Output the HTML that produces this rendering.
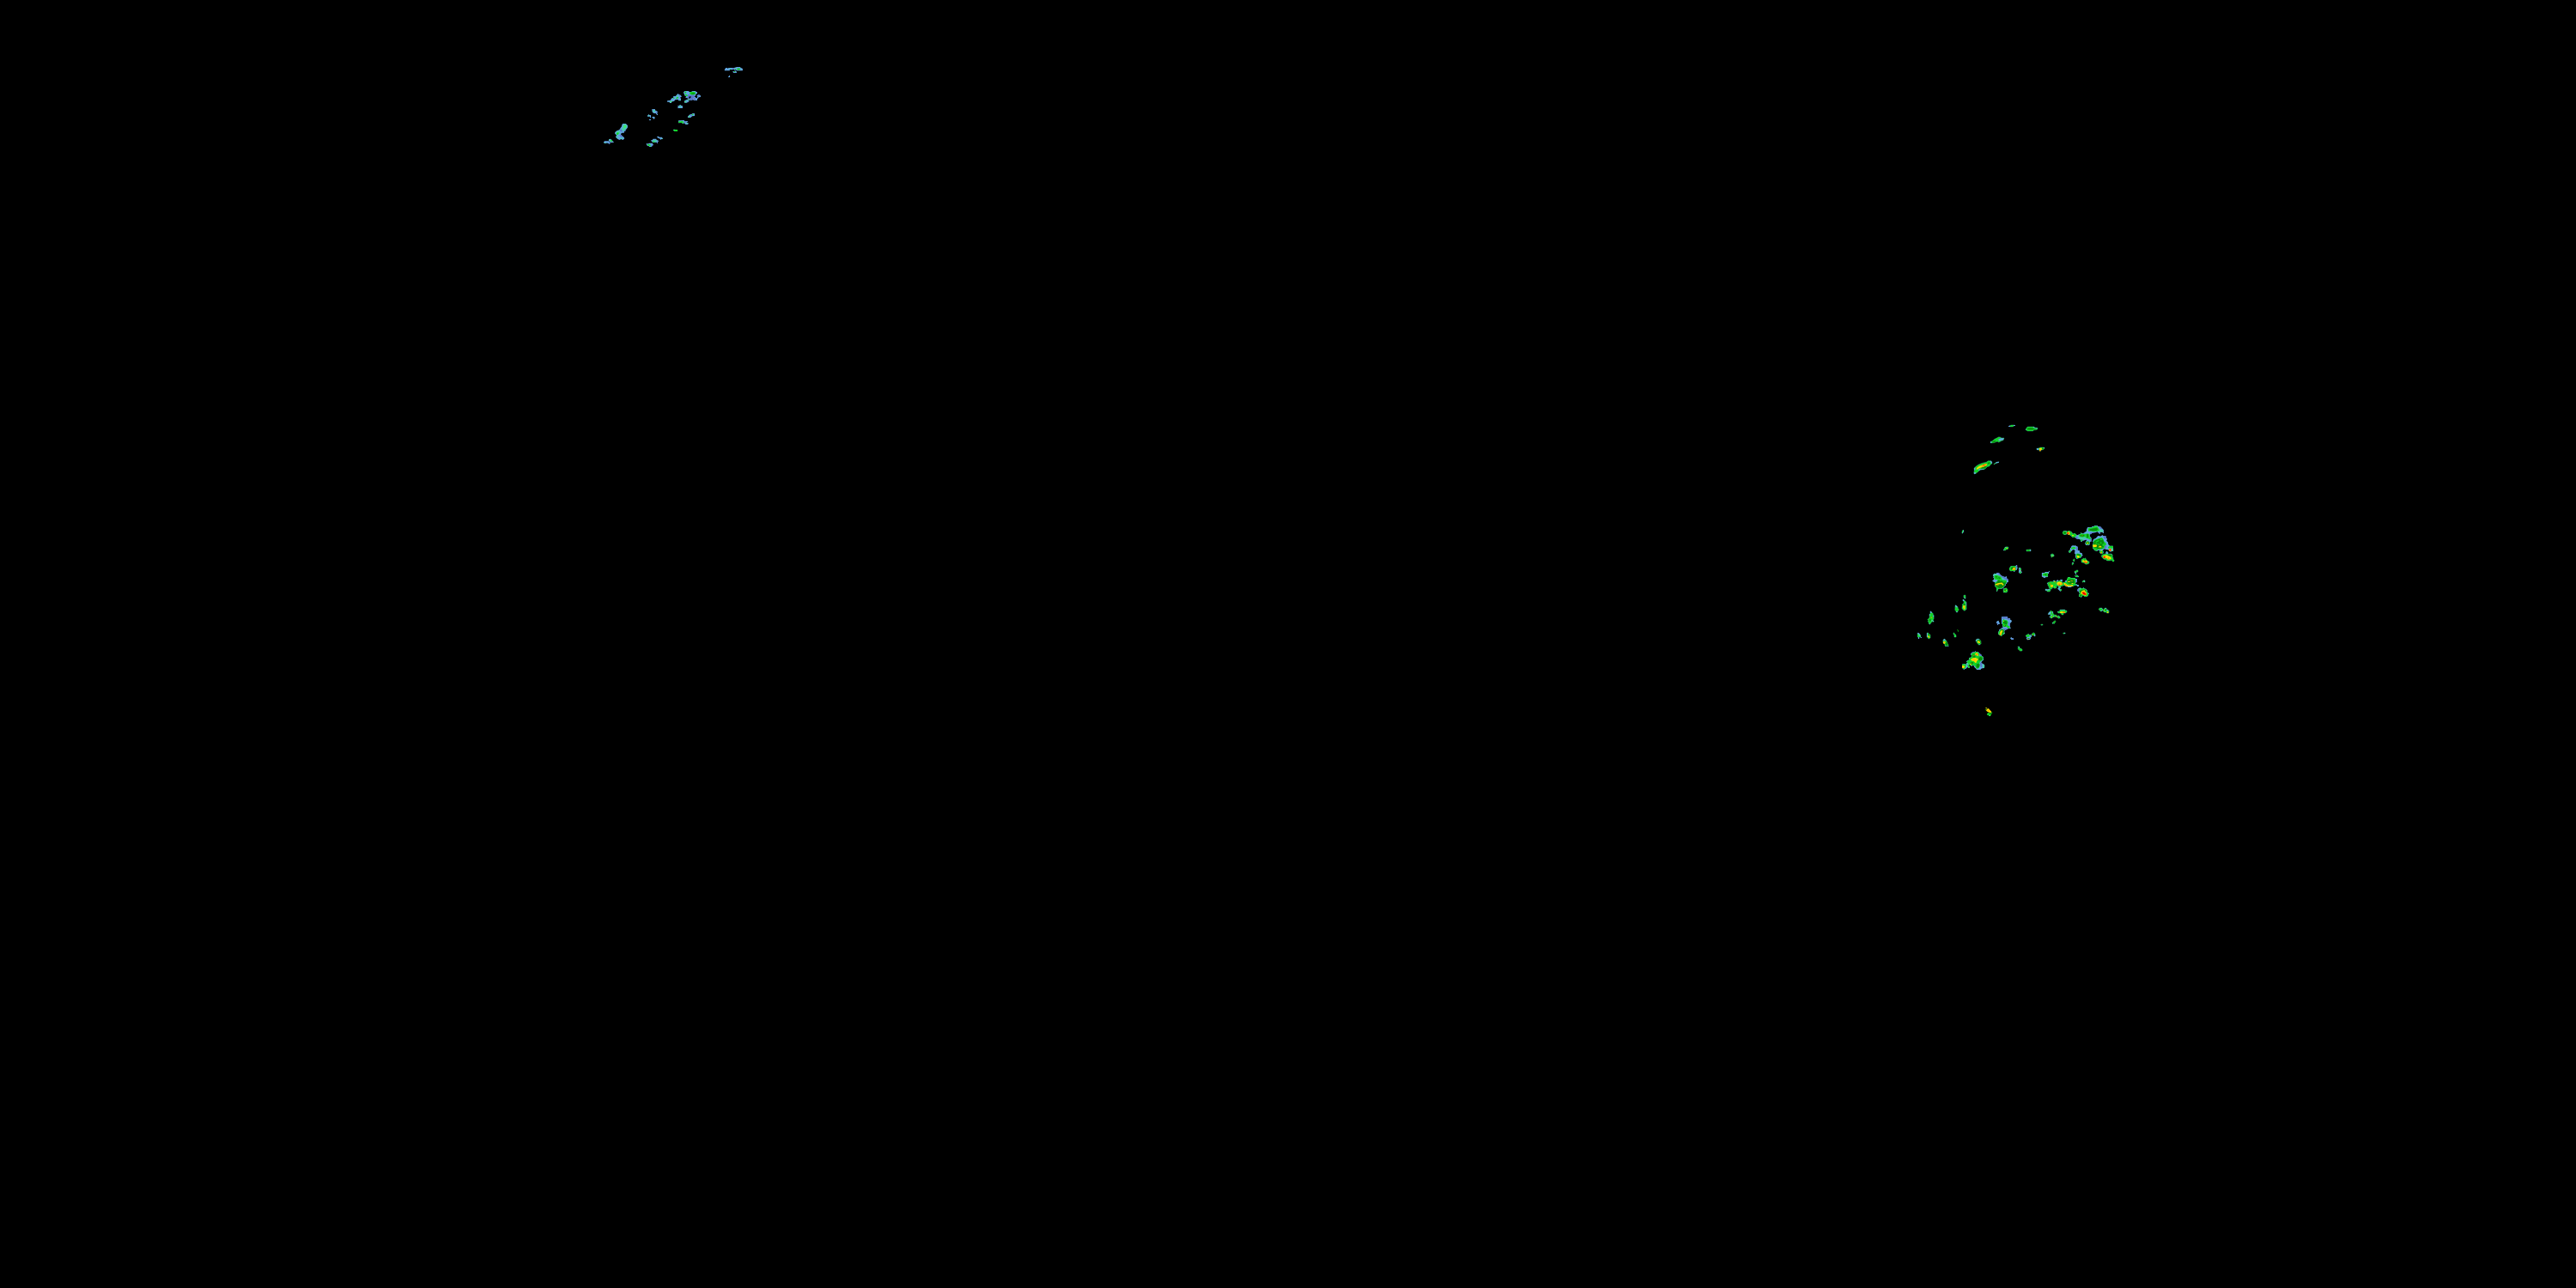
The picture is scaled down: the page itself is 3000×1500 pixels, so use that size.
<!DOCTYPE html>
<html><head><meta charset="utf-8"><title>Radar</title>
<style>
html,body{margin:0;padding:0;background:#000;width:3000px;height:1500px;overflow:hidden;font-family:"Liberation Sans",sans-serif;}
svg{display:block;position:absolute;left:0;top:0;}
</style></head><body>
<svg width="3000" height="1500" viewBox="0 0 3000 1500">
<rect width="3000" height="1500" fill="#000"/>
<g stroke-linejoin="round">
<polygon fill="#61a5e0" points="725.23,143.98 728.92,143.9 731.06,146.3 730.86,148.83 726.79,153.68 726.98,154.65 724.84,154.84 723.29,155.62 722.9,156.79 726.98,160.28 727.17,161.44 725.43,163 723.29,162.03 721.35,163 719.02,161.83 716.89,159.5 718.25,157.95 715.92,155.23 716.3,154.07 718.25,152.13 721.16,151.16 724.07,147.08 724.26,145.53"/>
<polygon fill="#46cfa6" points="725.62,144.95 728.73,144.56 730.09,146.69 729.89,148.63 726.79,152.13 724.07,152.52 723.29,151.74 725.23,148.25"/>
<ellipse fill="#3ce868" cx="727.95" cy="147.27" rx="1.75" ry="1.36" transform="rotate(-40 727.95 147.27)"/>
<polygon fill="#5876c8" points="721.74,150.96 723.29,150.19 724.84,152.13 724.84,153.29 722.9,153.29"/>
<polygon fill="#46cfa6" points="717.08,154.07 720.96,151.74 722.13,153.29 721.74,155.62 719.41,157.17 718.25,157.17"/>
<ellipse fill="#12d428" cx="719.22" cy="155.62" rx="1.55" ry="1.09" transform="rotate(-40 719.22 155.62)"/>
<polygon fill="#5876c8" points="721.16,157.17 723.29,156.79 725.23,158.92 724.84,159.89 722.52,158.92"/>
<polygon fill="#46cfa6" points="717.08,159.11 718.63,158.34 720.19,160.28 719.41,161.06"/>
<polygon fill="#46cfa6" points="721.74,160.67 724.84,160.28 725.62,161.44 723.29,161.64"/>
<polygon fill="#5876c8" points="728.14,152.13 728.92,152.13 728.92,153.1 728.14,153.1"/>
<polygon fill="#61a5e0" points="702.91,165.52 704.27,164.16 708.73,164.16 709.12,162.22 710.48,161.83 712.81,163 713.59,164.55 714.95,165.33 714.36,165.91 711.06,165.91 709.7,168.04 708.93,167.27 706.99,166.49 705.82,167.07 703.88,166.88"/>
<polygon fill="#5876c8" points="708.73,165.91 710.29,165.71 710.48,166.88 709.51,167.85"/>
<polygon fill="#5876c8" points="704.27,164.36 705.82,164.16 705.82,165.13 704.46,165.13"/>
<polygon fill="#46cfa6" points="709.32,162.41 710.68,162.03 711.65,163 710.09,164.16"/>
<ellipse fill="#12d428" cx="712.03" cy="163.97" rx="1.05" ry="0.93"/>
<polygon fill="#46cfa6" points="703.49,165.71 705.82,165.91 705.43,166.88 703.88,166.8"/>
<polyline fill="none" stroke="#000" stroke-width="0.54" stroke-linecap="round" stroke-linejoin="round" points="709.01,164.08 710.95,166.02"/>
<polygon fill="#61a5e0" points="753.96,134.85 755.51,132.91 756.29,133.88 758.04,134.08 758.04,136.99 757.07,136.99 756.87,135.82 753.96,135.82"/>
<ellipse fill="#46cfa6" cx="755.51" cy="134.66" rx="0.85" ry="0.7"/>
<polygon fill="#61a5e0" points="759.01,136.21 761.72,135.82 763.08,137.18 762.11,137.96 761.53,139.12 760.56,137.76"/>
<polygon fill="#61a5e0" points="755.9,138.93 758.04,138.93 758.04,140.09 755.9,140.09"/>
<polygon fill="#61a5e0" points="759.2,127.1 760.5,127.3 761.2,127 762.7,127 763.3,128.8 765,129.2 766,130.5 765.8,131.2 764.8,131.9 766,132.7 766,133.9 765.2,133.9 763.7,132.1 761.7,131.9 760,130.9 759.5,129.5"/>
<polygon fill="#46cfa6" points="760.3,128.5 762.3,128 763.2,129.6 762,130.8 760.5,130.3"/>
<polygon fill="#5876c8" points="763.5,129.8 765.4,130 765.2,131 763.8,131.2"/>
<polygon fill="#12d428" points="783.87,151.3 785.03,150.72 789.11,150.92 789.11,153.05 785.23,153.05"/>
<polygon fill="#46cfa6" points="783.87,151.3 785.03,150.72 785.81,151.11 785.03,152.08"/>
<polygon fill="#61a5e0" points="764.84,159.26 766.79,158.87 767.95,159.65 770.67,159.84 772.22,161.4 771.83,161.98 770.28,161.98 769.5,162.95 768.73,161.79 766.4,160.82"/>
<ellipse fill="#3ce868" cx="771.25" cy="161.59" rx="0.7" ry="0.39"/>
<polygon fill="#61a5e0" points="757.86,163.53 759.8,162.95 760.57,161.79 764.07,161.79 764.84,162.95 766.4,163.53 767.17,164.7 766.01,165.28 766.01,167.03 765.23,167.03 764.65,165.86 760.19,165.86 759.02,164.7"/>
<polygon fill="#46cfa6" points="759.41,163.53 764.07,162.95 765.23,164.11 764.07,165.47 760.57,165.67"/>
<ellipse fill="#12d428" cx="761.16" cy="165.09" rx="1.09" ry="0.54"/>
<polygon fill="#5876c8" points="765.23,164.89 766.01,164.89 766.01,166.91 765.31,166.91"/>
<polygon fill="#61a5e0" points="752.81,167.22 753.59,166.83 754.36,167.8 755.53,166.83 760.19,166.83 760.19,168 761.16,168.39 758.63,170.91 756.3,171.1 755.92,170.13 753.98,169.94 753,168.58"/>
<ellipse fill="#12d428" cx="755.92" cy="168.85" rx="2.02" ry="0.93" transform="rotate(12 755.92 168.85)"/>
<polygon fill="#5876c8" points="759.02,168.77 760.96,168.46 758.83,170.71 758.05,170.13"/>
<polygon fill="#46cfa6" points="756.3,170.13 758.25,169.94 758.44,170.91 756.5,171.02"/>
<polygon fill="#61a5e0" points="777.08,117.13 780.96,116.74 781.74,114.8 784.07,113.63 784.26,112.08 786.79,112.08 789.5,108.98 791.06,110.14 792.22,110.53 794.16,112.47 792.22,113.25 793,115.19 793,117.13 790.28,117.13 789.89,115.96 786.79,115.96 784.84,117.9 782.52,118.29 781.74,120.04 780.19,120.04 779.41,118.87 777.08,118.87"/>
<ellipse fill="#12d428" cx="784.73" cy="114.33" rx="0.85" ry="0.78"/>
<ellipse fill="#12d428" cx="788.73" cy="114.02" rx="1.63" ry="0.78" transform="rotate(-25 788.73 114.02)"/>
<ellipse fill="#3ce868" cx="781.35" cy="118.29" rx="1.63" ry="0.7" transform="rotate(-20 781.35 118.29)"/>
<ellipse fill="#46cfa6" cx="791.64" cy="116.47" rx="1.09" ry="0.54"/>
<polygon fill="#5876c8" points="790.47,110.53 792.22,110.72 792.41,112.08 790.86,112.08"/>
<polygon fill="#46cfa6" points="787.17,112.08 789.11,110.53 789.89,112.08 787.95,112.86"/>
<polygon fill="#61a5e0" points="795.91,107.81 797.27,106.06 801.93,106.06 802.7,107.03 805.03,107.03 806.2,106.06 810.08,106.06 810.47,106.84 812.02,107.23 812.02,108.78 810.47,109.75 809.69,111.69 808.52,112.86 810.08,113.63 812.02,114.22 812.02,116.93 808.14,116.93 807.17,115.96 805.81,116.74 803.28,116.74 803.09,115.19 801.15,115.19 800.37,114.02 798.24,114.02 799.21,112.47 797.27,111.3 796.88,109.75"/>
<polygon fill="#5876c8" points="801.15,109.75 803.09,110.53 805.81,110.53 809.3,110.53 808.52,112.86 810.08,114.02 810.47,116.74 808.14,116.74 807.17,115.77 805.81,116.55 803.48,116.55 803.09,114.99 801.15,114.99 800.37,113.25 801.15,111.69"/>
<polygon fill="#000" points="802.51,112.86 804.25,112.08 804.64,113.25 803.48,114.6 802.12,114.41"/>
<ellipse fill="#12d428" cx="798.24" cy="107.62" rx="1.09" ry="1.01"/>
<ellipse fill="#12d428" cx="799.21" cy="110.92" rx="1.86" ry="0.93" transform="rotate(20 799.21 110.92)"/>
<ellipse fill="#12d428" cx="806.58" cy="108.59" rx="3.57" ry="1.79"/>
<ellipse fill="#078c0c" cx="807.17" cy="108.98" rx="2.25" ry="0.85"/>
<polygon fill="#61a5e0" points="808.14,113.25 810.08,113.05 809.88,114.41 808.52,114.41"/>
<polygon fill="#b8a0c8" points="806.97,114.8 807.83,114.8 807.83,115.65 806.97,115.65"/>
<polygon fill="#61a5e0" points="811.24,111.3 813.96,109.95 816.09,111.5 815.9,113.05 813.57,113.25 812.99,114.8 811.82,114.8 812.02,113.25 812.41,112.27"/>
<polygon fill="#5876c8" points="812.41,111.11 814.15,110.33 815.12,111.69 813.18,112.47"/>
<polygon fill="#61a5e0" points="796.88,117.52 799.21,116.16 801.93,115.19 803.09,115.57 803.09,116.74 801.54,117.52 802.9,118.29 801.15,118.87 799.98,119.84 797.07,119.84"/>
<ellipse fill="#3ce868" cx="801.73" cy="116.27" rx="1.16" ry="0.54" transform="rotate(-25 801.73 116.27)"/>
<ellipse fill="#3ce868" cx="798.43" cy="118.49" rx="1.16" ry="0.7" transform="rotate(-20 798.43 118.49)"/>
<polygon fill="#5876c8" points="800.37,117.71 802.7,118.21 801.15,118.76"/>
<polygon fill="#61a5e0" points="788.92,123.53 791.06,122.95 792.03,121.79 793,122.76 795.13,123.53 794.94,126.06 788.92,126.06 789.89,124.7"/>
<ellipse fill="#46cfa6" cx="792.03" cy="123.92" rx="1.48" ry="0.97"/>
<polygon fill="#61a5e0" points="800.95,135.76 803.09,133.43 805.81,132.85 806.58,131.88 808.91,132.07 809.11,134.98 806.2,135.18 804.25,137.12 800.95,137.12"/>
<ellipse fill="#12d428" cx="806.78" cy="133.43" rx="1.16" ry="0.7" transform="rotate(-15 806.78 133.43)"/>
<ellipse fill="#3ce868" cx="802.9" cy="135.76" rx="1.24" ry="0.62" transform="rotate(-25 802.9 135.76)"/>
<polygon fill="#5876c8" points="803.87,134.21 805.81,133.82 805.42,134.98 804.25,135.37"/>
<polygon fill="#61a5e0" points="790.09,140.23 796.88,140.03 797.27,141.2 800.76,141 800.95,141.97 799.21,142.94 801.93,143.33 801.15,145.08 798.43,145.08 797.27,143.52 794.94,143.91 793.77,142.94 790.09,143.14"/>
<polygon fill="#12d428" points="790.09,141.97 791.06,141.2 793,140.81 796.1,141.58 796.49,143.14 794.94,143.84 793.77,142.94 790.09,143.06"/>
<ellipse fill="#61a5e0" cx="792.41" cy="141.51" rx="0.85" ry="0.35"/>
<ellipse fill="#61a5e0" cx="795.13" cy="142.17" rx="0.54" ry="0.31"/>
<polygon fill="#5876c8" points="797.07,141.39 798.82,141.58 798.43,142.94 796.88,142.94"/>
<ellipse fill="#3ce868" cx="799.98" cy="143.45" rx="1.16" ry="0.39"/>
<polygon fill="#61a5e0" points="843.87,80.96 845.23,79.02 846.79,79.02 847.17,79.8 848.73,79.02 854.94,79.02 858.04,78.05 861.93,78.05 862.7,79.02 864.25,79.41 865.03,80.57 864.84,82.13 858.04,82.13 856.88,81.16 855.71,81.74 854.94,80.77 853,81.16 849.89,80.96 849.89,82.13 843.87,82.13"/>
<polygon fill="#5876c8" points="852.8,79.29 855.13,79.22 855.13,80.96 853,81.04"/>
<polygon fill="#5876c8" points="855.13,81.16 856.68,81.27 857.27,82.71 856.1,82.9"/>
<polygon fill="#000" points="855.91,81.27 856.88,81.04 857.07,81.82 856.3,81.93"/>
<ellipse fill="#12d428" cx="860.18" cy="80.57" rx="2.25" ry="1.01"/>
<ellipse fill="#078c0c" cx="860.37" cy="80.38" rx="1.01" ry="0.43"/>
<ellipse fill="#46cfa6" cx="850.67" cy="80.19" rx="1.94" ry="0.47"/>
<ellipse fill="#3ce868" cx="856.1" cy="79.99" rx="0.97" ry="0.54"/>
<polygon fill="#61a5e0" points="853,83.29 854.94,82.9 857.27,82.9 858.04,83.68 857.85,85.04 854.36,85.04"/>
<ellipse fill="#12d428" cx="855.6" cy="83.49" rx="0.93" ry="0.62"/>
<polygon fill="#5876c8" points="854.36,84.46 857.85,84.38 857.85,85.04 854.47,85.04"/>
<polygon fill="#61a5e0" points="847.95,89.5 848.92,88.73 849.31,87.87 850.09,87.95 850.09,90.09 848.14,90.09"/>
<polygon fill="#12d428" stroke="#46cfa6" stroke-width="0.3" points="2340.66,495.66 2342.4,495.01 2346.19,495.01 2345.31,496.35 2343.57,496.94 2340.66,496.94"/>
<polygon fill="#61a5e0" points="2338.91,496.35 2340.95,495.6 2341.12,496.94 2339.2,496.94"/>
<polygon fill="#61a5e0" points="2345.02,495.01 2347.06,495.01 2346.77,495.95 2345.02,496.06"/>
<polygon fill="#12d428" stroke="#46cfa6" stroke-width="0.3" points="2359,500.43 2359.87,498.68 2361.32,496.94 2368.6,496.94 2369.77,498.1 2372.97,498.39 2372.97,499.85 2370.93,500.72 2368.02,501.01 2367.73,502 2361.32,502 2359.87,501.01"/>
<ellipse fill="#078c0c" cx="2364.82" cy="499.38" rx="3.96" ry="1.16"/>
<ellipse fill="#078c0c" cx="2369.65" cy="499.91" rx="1.28" ry="0.58"/>
<polygon fill="#61a5e0" points="2367.44,497.23 2368.72,497.05 2369.88,498.16 2372.97,498.45 2372.97,499.26 2369.18,498.86"/>
<polygon fill="#61a5e0" points="2359,500.25 2359.87,499.85 2360.04,501.01"/>
<polygon fill="#12d428" stroke="#46cfa6" stroke-width="0.3" points="2317.95,514.69 2320.86,513.24 2322.61,511.49 2325.52,510.04 2327.85,508.87 2329.88,509.16 2330.76,510.04 2333.96,510.04 2333.09,512.66 2330.76,513.53 2328.72,514.69 2327.26,514.99 2326.1,514.11 2322.61,515.57 2318.24,515.98"/>
<polygon fill="#61a5e0" points="2327.26,511.49 2330.17,510.33 2333.78,510.21 2333.09,512.37 2330.76,512.95 2327.85,513.53"/>
<polygon fill="#078c0c" points="2319.99,514.4 2323.77,512.95 2324.35,514.4 2320.86,515.57"/>
<polygon fill="#61a5e0" points="2317.95,514.58 2319.11,514.11 2319.4,515.74 2318.24,515.98"/>
<polygon fill="#12d428" stroke="#46cfa6" stroke-width="0.3" points="2371.8,522.26 2375.01,521.68 2376.17,520.98 2380.83,521.1 2380.83,522.55 2379.37,523.72 2377.34,524.01 2376.75,525.17 2375.01,525.17 2374.72,523.89 2372.1,523.89"/>
<polygon fill="#61a5e0" points="2371.92,522.26 2374.31,522.03 2374.31,523.89 2372.1,523.89"/>
<polygon fill="#ffdc00" points="2374.89,521.97 2377.63,521.8 2378.03,523.43 2376.75,524.13 2375.01,523.89"/>
<polygon fill="#ff9200" points="2375.01,523.72 2377.05,523.72 2376.64,525.17 2375.12,525.17"/>
<ellipse fill="#078c0c" cx="2379.08" cy="522.38" rx="0.93" ry="0.82"/>
<polygon fill="#61a5e0" points="2379.96,521.1 2380.95,521.1 2380.95,522.26 2380.13,522.26"/>
<polygon fill="#12d428" stroke="#46cfa6" stroke-width="0.36" points="2299.02,545.55 2301.06,543.22 2303.97,541.19 2306.89,540.02 2309.21,539.15 2313.29,538.28 2315.33,536.82 2318.53,536.82 2319.99,538.28 2319.69,540.02 2317.95,541.19 2316.78,542.93 2314.45,543.52 2312.13,545.84 2310.38,546.72 2306.3,547.01 2303.97,549.05 2301.06,551.38 2299.02,551.96 2298.85,550.21 2299.32,547.88"/>
<polygon fill="#078c0c" points="2306.89,544.68 2312.13,542.64 2313.87,543.22 2311.54,545.55 2307.47,546.02"/>
<ellipse fill="#078c0c" cx="2316.2" cy="539.44" rx="1.4" ry="0.93" transform="rotate(-30 2316.2 539.44)"/>
<polygon fill="#ffdc00" points="2301.64,546.14 2302.52,544.39 2305.14,542.64 2309.21,541.19 2312.71,540.02 2314.16,540.6 2313.29,542.35 2309.8,543.81 2306.3,544.68 2303.39,546.14 2302.23,547.01"/>
<polygon fill="#ff9200" points="2307.47,542.35 2310.96,540.78 2313.29,540.2 2313.87,541.19 2311.54,542.64 2308.63,543.81"/>
<ellipse fill="#e80000" cx="2310.49" cy="541.36" rx="0.7" ry="0.47"/>
<polygon fill="#61a5e0" points="2298.85,550.21 2300.77,550.09 2301.06,551.38 2299.02,551.96"/>
<polygon fill="#61a5e0" points="2317.07,536.94 2318.82,536.82 2319.99,538.28 2319.69,540.02 2318.53,539.73 2318.24,537.98"/>
<polygon fill="#61a5e0" points="2303.97,546.6 2310.38,546.02 2310.67,546.83 2306.3,547.18 2304.56,548.17"/>
<polygon fill="#61a5e0" points="2299.02,545.55 2300.19,544.1 2300.48,546.14 2299.32,547.88"/>
<polygon fill="#46cfa6" points="2321.73,540.31 2323.19,539.44 2324.93,537.98 2328.14,537.87 2327.85,538.86 2325.52,539.44 2323.77,540.02 2322.61,541.19"/>
<polygon fill="#61a5e0" points="2324.93,537.98 2328.14,537.87 2327.85,538.86 2325.52,539.26"/>
<ellipse fill="#12d428" cx="2322.37" cy="540.49" rx="0.58" ry="0.52"/>
<polygon fill="#46cfa6" points="2284.74,620.62 2284.94,618.68 2285.91,617.13 2287.07,616.93 2287.07,619.84 2286.1,620.23 2285.91,621.2 2284.94,621.2"/>
<polygon fill="#12d428" points="2284.94,618.68 2285.71,617.71 2286.3,618.29 2285.52,620.04 2284.94,619.84"/>
<polygon fill="#5876c8" points="2286.3,619.26 2287.07,619.07 2287.07,619.92 2286.3,620.16"/>
<polygon fill="#61a5e0" points="2401.99,620.14 2403.35,618.2 2406.26,618 2407.42,619.17 2409.36,618 2412.08,618.98 2414.41,621.69 2416.16,620.92 2419.07,623.25 2422.95,621.69 2423.53,619.95 2424.5,621.11 2426.06,621.3 2429.94,618.59 2430.13,616.26 2431.3,614.12 2436.15,613.93 2436.34,612.96 2438.87,612.76 2439.25,611.99 2442.75,611.99 2443.52,612.96 2445.85,612.96 2449.93,617.23 2449.93,620.92 2448.96,620.92 2448.57,619.75 2445.85,619.75 2445.66,621.89 2444.88,621.69 2444.69,620.53 2443.14,620.33 2442.75,619.36 2440.03,620.33 2436.15,620.53 2435.37,621.89 2433.82,622.27 2433.82,624.41 2435.76,626.74 2435.76,630.62 2434.21,630.82 2433.82,633.73 2433.04,634.89 2429.16,634.89 2428.19,632.95 2429.16,630.62 2430.33,629.07 2429.16,628.68 2426.06,629.84 2424.89,629.84 2424.7,631.01 2423.34,631.01 2422.95,628.68 2421.79,627.9 2419.07,627.9 2416.16,625.77 2414.02,625.96 2410.92,623.25 2409.36,623.05 2407.81,622.08 2404.32,623.05 2402.76,621.5"/>
<polygon fill="#5876c8" points="2416.74,625.19 2419.07,624.41 2419.84,626.74 2422.17,627.9 2419.84,627.9"/>
<polygon fill="#5876c8" points="2433.82,620.53 2436.15,619.95 2439.64,620.14 2436.15,620.92 2435.37,622.08 2433.82,622.27"/>
<polygon fill="#5876c8" points="2443.52,619.75 2445.85,619.36 2445.66,621.89 2444.88,621.69"/>
<polygon fill="#5876c8" points="2443.91,613.15 2445.85,613.07 2448.57,616.06 2446.63,616.26"/>
<polygon fill="#5876c8" points="2434.21,627.9 2435.76,628.29 2435.76,630.62 2434.21,630.82"/>
<polygon fill="#46cfa6" points="2445.08,616.26 2447.02,616.26 2449.35,617.81 2449.15,619.75 2445.85,619.56 2443.52,619.36"/>
<ellipse fill="#12d428" cx="2404.51" cy="620.53" rx="2.48" ry="2.33"/>
<ellipse fill="#078c0c" cx="2404.7" cy="620.53" rx="1.4" ry="1.24"/>
<polygon fill="#12d428" points="2406.65,618.98 2409.36,618.12 2412.08,619.17 2414.41,621.89 2416.16,621.11 2418.68,623.25 2417.13,625.19 2414.02,625.89 2411.3,623.25 2409.36,622.93 2407.81,622.08"/>
<polygon fill="#ff9200" points="2406.84,620.33 2408.2,619.56 2409.75,619.17 2410.72,620.92 2410.33,622.47 2408.98,622.86 2407.81,622.08 2407.03,621.69"/>
<ellipse fill="#ffdc00" cx="2409.56" cy="619.95" rx="0.7" ry="0.7"/>
<ellipse fill="#ffdc00" cx="2409.95" cy="621.89" rx="0.62" ry="0.62"/>
<ellipse fill="#e80000" cx="2408.12" cy="621.11" rx="0.93" ry="0.78"/>
<ellipse fill="#ffdc00" cx="2414.02" cy="623.63" rx="1.16" ry="0.74"/>
<ellipse fill="#078c0c" cx="2415.19" cy="625.19" rx="0.85" ry="0.47"/>
<polygon fill="#12d428" points="2420.62,623.63 2422.95,622.08 2423.53,620.33 2424.5,621.69 2429.16,621.69 2431.1,621.3 2433.04,622.08 2433.43,625.19 2435.37,627.13 2433.82,628.29 2432.27,627.13 2429.94,626.74 2428.39,625.19 2425.28,625.57 2422.17,625.19"/>
<polygon fill="#078c0c" points="2422.17,623.63 2424.5,622.66 2427.22,622.86 2427.61,624.22 2425.28,624.8 2422.95,624.6"/>
<polygon fill="#078c0c" points="2429.94,622.27 2431.88,622.08 2432.27,624.41 2431.68,626.74 2430.33,625.96"/>
<polygon fill="#8c9a00" points="2423.92,623.44 2425.67,623.25 2425.67,624.22 2424.11,624.22"/>
<polygon fill="#12d428" points="2423.34,627.9 2425.28,627.71 2425.09,630.23 2423.53,630.43"/>
<polygon fill="#46cfa6" points="2419.84,624.41 2420.82,623.63 2422.17,625.38 2425.28,625.77 2428.39,625.38 2429.55,626.74 2426.83,628.29 2422.95,628.29 2420.62,626.74"/>
<polygon fill="#12d428" points="2421.4,623.56 2422.95,622.27 2429.16,621.89 2433.04,622.27 2433.43,625.19 2435.18,627.13 2433.82,628.21 2432.27,627.13 2429.94,626.66 2428.39,625.11 2425.28,625.5 2422.17,625.11"/>
<polygon fill="#078c0c" points="2422.17,623.63 2424.5,622.66 2427.22,622.86 2427.61,624.22 2425.28,624.8 2422.95,624.6"/>
<polygon fill="#078c0c" points="2429.94,622.27 2431.88,622.08 2432.27,624.41 2431.68,626.74 2430.33,625.96"/>
<polygon fill="#8c9a00" points="2423.92,623.44 2425.67,623.25 2425.67,624.22 2424.11,624.22"/>
<polygon fill="#12d428" points="2431.49,615.87 2432.66,614.7 2436.15,614.51 2439.25,612.76 2441.97,612.57 2443.52,614.32 2444.69,616.65 2445.08,617.81 2442.36,618.98 2437.7,619.17 2435.37,618.59 2432.27,618.78"/>
<polygon fill="#078c0c" points="2433.24,616.26 2436.93,615.48 2440.03,615.09 2442.17,614.51 2443.14,616.65 2441.58,618 2438.09,618.2 2433.82,618"/>
<ellipse fill="#12d428" cx="2431.37" cy="632.37" rx="2.41" ry="2.17"/>
<ellipse fill="#078c0c" cx="2431.37" cy="632.37" rx="1.71" ry="1.55"/>
<ellipse fill="#ffdc00" cx="2431.3" cy="632.56" rx="1.09" ry="0.78" transform="rotate(-30 2431.3 632.56)"/>
<polygon fill="#61a5e0" points="2437.12,630.62 2438.09,627.9 2440.81,626.74 2443.33,624.02 2446.63,624.41 2448.38,623.05 2449.35,624.02 2452.45,624.22 2453.04,626.74 2454.01,627.52 2453.23,629.84 2454.98,631.4 2455.36,634.11 2457.11,635.67 2460.99,635.86 2461.19,642.07 2459.05,641.88 2458.47,642.85 2456.34,642.07 2455.56,640.33 2452.84,639.94 2450.9,639.16 2449.74,639.94 2448.96,640.71 2449.93,643.24 2448.96,644.98 2447.02,645.18 2445.08,643.82 2445.08,641.1 2443.14,640.91 2442.17,642.07 2440.81,641.49 2438.87,640.91 2438.48,639.16 2436.93,638.77 2437.51,637.22 2436.93,635.67 2437.12,633.73 2438.09,632.17"/>
<polygon fill="#5876c8" points="2449.35,624.22 2452.38,624.33 2453.04,626.74 2451.29,628.29 2450.12,626.74"/>
<polygon fill="#5876c8" points="2450.9,635.67 2452.84,635.28 2453.23,638.39 2451.29,638.77"/>
<polygon fill="#12d428" points="2438.09,630.62 2439.25,628.68 2441.58,627.9 2444.69,626.74 2447.8,625.96 2449.74,627.9 2450.12,630.23 2452.45,632.17 2453.23,634.5 2450.9,635.67 2450.9,638.39 2448.57,639.16 2445.47,639.94 2442.75,639.94 2441.97,641.88 2440.81,641.3 2439.06,640.71 2438.67,639.16 2437.12,638.58 2437.7,637.22 2437.12,635.67 2437.7,632.95"/>
<polygon fill="#078c0c" points="2438.87,630.23 2441.58,628.68 2445.08,627.52 2448.18,627.13 2449.74,629.84 2450.51,632.95 2450.12,636.06 2449.35,638.39 2445.47,639.36 2440.81,639.55 2438.87,638 2438.09,635.28 2438.48,632.17"/>
<ellipse fill="#12d428" cx="2442.55" cy="630.43" rx="2.41" ry="0.78" transform="rotate(-28 2442.55 630.43)"/>
<ellipse fill="#12d428" cx="2447.21" cy="628.29" rx="1.55" ry="0.62" transform="rotate(-10 2447.21 628.29)"/>
<ellipse fill="#12d428" cx="2446.63" cy="632.17" rx="1.09" ry="0.78"/>
<ellipse fill="#12d428" cx="2443.52" cy="633.73" rx="1.16" ry="0.62" transform="rotate(20 2443.52 633.73)"/>
<ellipse fill="#12d428" cx="2441.2" cy="632.95" rx="1.01" ry="0.54" transform="rotate(-30 2441.2 632.95)"/>
<ellipse fill="#12d428" cx="2449.35" cy="634.5" rx="0.85" ry="1.55"/>
<ellipse fill="#12d428" cx="2440.81" cy="638.77" rx="1.55" ry="0.54"/>
<ellipse fill="#12d428" cx="2448.96" cy="637.61" rx="0.78" ry="0.7"/>
<ellipse fill="#ffdc00" cx="2439.64" cy="635.67" rx="2.56" ry="1.48"/>
<ellipse fill="#ffdc00" cx="2445.85" cy="636.91" rx="1.63" ry="1.24"/>
<ellipse fill="#078c0c" cx="2445.85" cy="637.8" rx="0.7" ry="0.7"/>
<ellipse fill="#8c9a00" cx="2444.88" cy="634.7" rx="0.97" ry="0.54"/>
<polygon fill="#12d428" points="2454.98,637.22 2456.34,636.06 2458.66,635.86 2460.92,636.06 2460.99,638.39 2459.44,639.16 2458.66,638.58 2455.95,638.77 2454.98,638.19"/>
<polygon fill="#46cfa6" points="2459.05,638.77 2460.99,638.58 2461.07,641.88 2459.25,641.8"/>
<ellipse fill="#ff9200" cx="2457.42" cy="640.4" rx="1.55" ry="1.71"/>
<ellipse fill="#e80000" cx="2457.42" cy="640.25" rx="0.54" ry="0.97"/>
<polygon fill="#12d428" points="2445.27,641.3 2448.77,640.91 2449.35,643.43 2448.77,644.91 2447.02,645.06 2445.27,643.82"/>
<ellipse fill="#ffdc00" cx="2447.41" cy="641.57" rx="0.62" ry="0.54"/>
<ellipse fill="#ff9200" cx="2447.02" cy="643.63" rx="0.97" ry="0.78"/>
<ellipse fill="#e80000" cx="2447.48" cy="644.29" rx="0.39" ry="0.39"/>
<polygon fill="#61a5e0" points="2408.98,641.68 2410.92,639.94 2410.92,638.19 2412.08,637.61 2412.27,636.06 2414.41,634.89 2415.38,635.86 2416.35,634.89 2418.29,636.06 2419.84,636.83 2419.84,640.91 2421.79,641.1 2422.17,643.43 2424.89,644.21 2424.89,646.15 2426.06,646.54 2424.5,647.7 2423.73,649.25 2422.17,650.03 2419.84,650.03 2419.07,651.2 2417.9,650.42 2416.93,648.48 2417.13,645.37 2416.16,644.98 2416.16,642.46 2416.74,641.68 2415.57,640.13 2414.02,640.33 2412.08,642.27 2410.92,643.82 2409.95,643.82 2408.98,642.66"/>
<polygon fill="#5876c8" points="2417.9,637.22 2419.84,637.03 2419.84,640.91 2418.29,641.1"/>
<polygon fill="#12d428" points="2412.08,638 2414.41,636.64 2416.74,637.22 2417.71,638.39 2415.96,639.36 2413.63,639.55 2412.08,639.55"/>
<polygon fill="#12d428" points="2409.17,641.88 2410.92,640.71 2412.08,641.68 2410.92,643.43 2409.95,643.82"/>
<polygon fill="#12d428" points="2417.52,645.76 2419.07,644.6 2422.17,644.98 2423.92,646.15 2423.73,648.48 2422.17,649.84 2419.07,650.81 2417.9,649.64"/>
<polygon fill="#078c0c" points="2418.29,645.76 2419.84,645.18 2422.56,645.76 2422.95,647.31 2419.84,647.12"/>
<polygon fill="#ffdc00" points="2418.87,646.93 2420.23,647.12 2422.17,648.48 2420.23,649.64 2419.07,649.25"/>
<polygon fill="#12d428" stroke="#46cfa6" stroke-width="0.24" points="2414.02,652.17 2415.57,650.81 2416.16,651.2 2415.96,653.91 2414.8,653.72"/>
<polygon fill="#12d428" stroke="#46cfa6" stroke-width="0.36" points="2447.02,647.31 2448.96,645.76 2451.29,644.98 2452.84,644.98 2452.45,643.63 2453.23,642.07 2454.39,642.85 2455.17,643.82 2454.78,644.98 2459.05,644.98 2460.22,646.15 2460.22,648.87 2460.99,649.64 2460.99,651.58 2462.16,652.36 2461.96,653.72 2460.61,654.11 2459.05,652.36 2457.11,652.94 2453.62,652.94 2452.45,651.58 2450.12,651.2 2448.18,649.25"/>
<polygon fill="#61a5e0" points="2452.45,643.63 2453.23,642.07 2454.39,642.85 2455.17,643.82 2454.78,645.18 2452.84,645.18"/>
<polygon fill="#61a5e0" points="2457.11,644.98 2459.05,644.98 2459.44,645.76 2457.5,645.76"/>
<polygon fill="#ffdc00" points="2448.77,647.7 2450.9,646.73 2453.23,646.15 2454.78,647.31 2457.11,648.09 2458.66,649.64 2458.66,651 2456.34,651.39 2454.78,651.58 2453.23,650.03 2450.9,650.23 2449.35,649.25"/>
<polygon fill="#078c0c" points="2454.78,645.76 2458.66,645.57 2459.44,647.7 2457.11,647.7 2455.56,647.12"/>
<polygon fill="#ff9200" points="2449.15,648.09 2452.07,647.51 2452.45,649.64 2450.51,650.23 2449.35,649.25"/>
<ellipse fill="#e80000" cx="2450.71" cy="648.87" rx="1.01" ry="0.85"/>
<polygon fill="#ff9200" points="2454.39,649.64 2455.95,648.87 2456.72,651.2 2454.78,651.58"/>
<ellipse fill="#12d428" cx="2461.07" cy="653.06" rx="0.93" ry="0.85"/>
<polygon fill="#12d428" stroke="#46cfa6" stroke-width="0.36" points="2423.92,652.38 2424.5,651.21 2426.06,650.82 2426.44,649.85 2427.41,650.82 2428.58,649.85 2429.36,651.21 2431.1,653.15 2433.04,654.12 2433.04,655.68 2431.88,656.65 2429.16,657.23 2426.83,655.48 2424.11,654.9"/>
<polygon fill="#ffdc00" points="2425.09,652.76 2426.44,652.18 2428,652.76 2429.55,652.18 2431.1,653.73 2431.3,654.9 2429.94,655.48 2427.22,654.7 2425.28,654.12"/>
<polygon fill="#ff9200" points="2426.83,654.12 2429.16,653.73 2431.1,654.7 2430.91,655.87 2429.16,656.26 2427.61,655.29"/>
<ellipse fill="#e80000" cx="2428" cy="654.51" rx="0.78" ry="0.47"/>
<ellipse fill="#e80000" cx="2429.94" cy="655.4" rx="0.85" ry="0.47"/>
<ellipse fill="#078c0c" cx="2427.8" cy="652.18" rx="0.97" ry="0.47"/>
<polygon fill="#12d428" stroke="#46cfa6" stroke-width="0.24" points="2413.05,655.48 2414.8,654.9 2415.19,656.26 2414.02,657.42 2413.05,658.2"/>
<polygon fill="#61a5e0" points="2413.05,655.48 2414.8,654.9 2414.88,655.68 2413.25,656.06"/>
<polygon fill="#12d428" stroke="#46cfa6" stroke-width="0.36" points="2415.96,665.19 2417.9,664.8 2418.68,663.83 2420.04,664.22 2420.04,665.96 2418.29,666.35 2417.9,667.32 2416.16,667.13"/>
<ellipse fill="#8c9a00" cx="2417.71" cy="665.19" rx="0.47" ry="0.31"/>
<polygon fill="#46cfa6" points="2416.16,665.96 2418.29,666.27 2417.9,667.32 2416.16,667.13"/>
<polygon fill="#61a5e0" points="2416.93,667.71 2418.1,667.71 2418.1,669.07 2416.93,669.07"/>
<polygon fill="#12d428" stroke="#46cfa6" stroke-width="0.3" points="2416.16,670.23 2417.13,670.62 2418.29,669.84 2419.84,670.04 2420.23,671.01 2421.01,671.4 2420.82,671.98 2417.32,671.98"/>
<polygon fill="#61a5e0" points="2419.84,671.2 2421.01,671.4 2420.82,671.98 2419.65,671.98"/>
<polygon fill="#12d428" stroke="#46cfa6" stroke-width="0.3" points="2424.89,677.61 2426.06,676.06 2428,675.86 2428.19,678 2426.83,678 2426.44,677.22 2425.67,678.19"/>
<polygon fill="#46cfa6" points="2426.25,676.06 2428,675.94 2428.11,677.8 2427.03,677.8"/>
<polygon fill="#61a5e0" points="2395,676.06 2396.55,674.89 2396.94,676.44 2398.49,676.25 2399.66,674.89 2401.99,674.89 2401.99,676.44 2401.21,677.61 2402.18,678.77 2405.09,677.61 2405.29,676.06 2407.03,675.67 2407.23,674.11 2408,673.73 2408.2,671.98 2410.92,671.98 2411.3,672.95 2416.74,672.95 2417.13,673.92 2418.87,673.92 2419.07,678 2417.52,678.19 2416.93,679.94 2418.68,680.13 2419.07,681.1 2421.01,681.3 2421.01,683.04 2419.26,683.04 2418.29,681.68 2416.16,681.68 2414.8,682.85 2412.86,683.04 2412.08,684.01 2408.2,684.01 2408,683.24 2406.26,683.24 2404.7,681.88 2402.18,681.88 2401.99,682.85 2400.05,682.85 2399.85,684.6 2398.88,685.37 2399.85,686.15 2401.02,686.34 2401.02,688.09 2399.85,688.28 2399.46,689.06 2397.91,687.31 2395.97,685.57 2397.33,684.98 2397.52,683.04 2396.55,682.46 2395,682.27"/>
<polygon fill="#5876c8" points="2417.32,676.06 2418.99,676.06 2419.07,678 2417.52,678.19"/>
<polygon fill="#12d428" points="2395,677.61 2396.94,676.64 2399.66,676.06 2401.21,677.61 2402.18,678.77 2405.09,677.8 2406.65,678 2407.23,674.5 2408.2,672.17 2410.92,672.17 2411.69,673.34 2416.55,673.34 2417.13,674.5 2417.32,678 2416.74,679.94 2418.29,680.33 2418.29,681.49 2416.16,681.49 2414.8,682.66 2412.86,682.85 2408.2,683.04 2406.26,683.04 2404.7,681.8 2402.18,681.8 2401.79,682.66 2400.05,682.73 2397.33,682.85 2395,682.07"/>
<polygon fill="#078c0c" points="2408.2,675.67 2410.53,674.5 2414.41,674.5 2416.16,676.06 2415.96,679.16 2413.63,680.33 2410.53,680.13 2408.2,679.16 2407.42,677.61"/>
<ellipse fill="#ffdc00" cx="2398.49" cy="679.55" rx="3.03" ry="2.17"/>
<polygon fill="#ff9200" points="2396.94,679.94 2398.88,679.16 2399.46,681.1 2398.49,682.07 2397.14,681.68"/>
<ellipse fill="#ff9200" cx="2401.21" cy="679.94" rx="0.93" ry="1.01"/>
<ellipse fill="#e80000" cx="2398.3" cy="681.49" rx="0.54" ry="0.39"/>
<polygon fill="#ffdc00" points="2403.15,679.36 2404.7,678.97 2406.65,680.33 2408.2,681.49 2414.02,681.3 2414.02,682.85 2408.2,683.04 2406.26,682.85 2404.32,681.1"/>
<polygon fill="#ff9200" points="2404.32,679.94 2405.68,680.13 2407.81,682.07 2406.65,682.97 2405.09,681.49"/>
<ellipse fill="#ffdc00" cx="2409.44" cy="677.41" rx="1.48" ry="0.54" transform="rotate(-8 2409.44 677.41)"/>
<ellipse fill="#ffdc00" cx="2413.63" cy="679.47" rx="1.4" ry="0.43" transform="rotate(-5 2413.63 679.47)"/>
<ellipse fill="#8c9a00" cx="2412.66" cy="676.44" rx="1.4" ry="0.7" transform="rotate(10 2412.66 676.44)"/>
<ellipse fill="#8c9a00" cx="2410.53" cy="681.49" rx="1.16" ry="0.62"/>
<polygon fill="#12d428" points="2398.88,686.54 2400.82,686.34 2401.02,687.9 2399.66,688.17"/>
<polygon fill="#46cfa6" points="2397.33,683.24 2399.85,683.04 2399.66,684.6 2398.69,685.37 2397.33,684.98"/>
<polygon fill="#61a5e0" points="2419.07,687.33 2420.23,685.19 2422.17,685.39 2422.56,684.22 2423.73,685.39 2425.67,685 2426.44,684.03 2427.61,685.39 2429.16,685.78 2431.1,687.72 2430.71,689.66 2432.27,690.43 2433.04,691.41 2431.88,692.76 2432.07,694.12 2430.71,694.32 2430.33,695.09 2428,695.09 2427.22,694.32 2425.28,693.35 2424.89,694.51 2423.53,696.06 2422.76,695.09 2421.01,694.9 2421.01,692.18 2422.17,691.6 2421.4,690.82 2421.01,688.88 2419.84,688.69"/>
<polygon fill="#5876c8" points="2419.07,687.33 2420.23,685.39 2421.79,685.78 2421.4,688.88 2419.84,688.69"/>
<polygon fill="#12d428" points="2421.4,686.16 2422.95,685 2425.67,685.19 2427.61,685.58 2429.16,686.16 2430.91,687.91 2430.52,689.66 2432.07,690.63 2431.88,692.76 2431.88,694.01 2430.52,694.24 2430.13,694.9 2428.19,694.9 2427.22,694.24 2425.28,693.23 2424.7,694.51 2423.53,695.48 2422.76,694.9 2421.2,694.7 2421.2,692.38 2422.37,691.6 2421.59,690.82 2421.4,688.88"/>
<ellipse fill="#46cfa6" cx="2422.37" cy="685.58" rx="1.36" ry="0.97"/>
<polygon fill="#078c0c" points="2422.17,688.11 2424.5,686.94 2427.22,686.55 2429.16,687.33 2429.55,689.27 2424.5,688.49 2423.34,690.82 2422.17,690.05"/>
<polygon fill="#078c0c" points="2421.79,692.38 2424.5,692.76 2424.11,694.32 2422.17,694.51"/>
<polygon fill="#ffdc00" points="2424.11,688.49 2426.06,687.52 2428,687.33 2428.77,689.27 2430.13,690.82 2429.94,693.35 2428,693.73 2425.67,692.38 2423.73,691.6 2423.14,690.43"/>
<polygon fill="#ff9200" points="2424.5,688.88 2427.22,689.08 2429.94,691.6 2429.55,693.15 2426.83,692.96 2424.89,691.41"/>
<polygon fill="#e80000" points="2425.09,689.46 2427.22,689.85 2429.74,691.99 2429.16,692.76 2426.83,692.57 2425.47,691.21"/>
<ellipse fill="#8c9a00" cx="2422.95" cy="692.38" rx="0.7" ry="0.47"/>
<polygon fill="#12d428" stroke="#46cfa6" stroke-width="0.36" points="2395.97,712.37 2397.33,711.98 2398.88,711.79 2398.88,710.23 2404.7,710.04 2405.29,711.01 2406.84,711.01 2407.03,712.56 2405.87,713.92 2403.15,714.11 2402.96,716.06 2401.21,716.06 2399.85,714.11 2396.94,713.92"/>
<polygon fill="#46cfa6" points="2399.08,710.31 2404.7,710.12 2404.9,710.93 2399.19,711.09"/>
<polygon fill="#ffdc00" points="2398.88,712.76 2400.82,711.98 2402.76,712.17 2402.76,713.92 2399.08,713.92"/>
<polygon fill="#ff9200" points="2402.18,712.37 2404.32,711.98 2405.17,712.95 2404.7,713.92 2402.38,713.92"/>
<polygon fill="#5876c8" points="2395.97,712.17 2396.75,712.1 2396.75,712.76 2395.97,712.76"/>
<polygon fill="#12d428" stroke="#46cfa6" stroke-width="0.36" points="2443.91,709.46 2445.47,708.1 2447.8,707.98 2448.96,709.46 2448.96,710.62 2447.8,711.79 2446.24,711.98 2445.08,710.43"/>
<polygon fill="#46cfa6" points="2445.47,708.18 2447.72,708.06 2448.18,708.87 2445.85,708.87"/>
<polygon fill="#61a5e0" points="2447.99,709.46 2448.96,709.46 2448.96,710.62 2447.8,711.79 2446.24,711.98 2446.44,711.2 2447.8,711.01"/>
<polygon fill="#12d428" stroke="#46cfa6" stroke-width="0.36" points="2449.15,711.01 2450.12,709.46 2451.09,708.29 2453.04,708.1 2453.23,709.84 2454.98,710.23 2456.14,711.4 2455.95,713.92 2453.62,714.11 2452.45,712.76 2450.9,712.95 2449.74,712.17"/>
<polygon fill="#61a5e0" points="2451.29,708.18 2452.96,708.1 2453.04,708.87 2451.48,708.99"/>
<polygon fill="#61a5e0" points="2453.23,710.04 2454.98,710.31 2455.56,711.4 2453.62,711.4"/>
<ellipse fill="#078c0c" cx="2452.14" cy="710.43" rx="0.7" ry="0.85"/>
<ellipse fill="#ffdc00" cx="2450.51" cy="710.62" rx="0.54" ry="0.58"/>
<ellipse fill="#ffdc00" cx="2454.59" cy="713.03" rx="0.85" ry="0.85"/>
<ellipse fill="#ff9200" cx="2454.78" cy="712.76" rx="0.39" ry="0.54"/>
<polygon fill="#46cfa6" points="2450.12,712.17 2452.07,712.17 2452.26,712.95 2450.9,713.03"/>
<polygon fill="#12d428" stroke="#46cfa6" stroke-width="0.3" points="2332.86,640.53 2334.02,639.95 2334.02,638.39 2335.19,637.23 2336.74,636.84 2338.87,637.03 2339.07,638.39 2337.9,639.95 2336.74,639.75 2335.57,640.92 2334.02,641.11"/>
<polygon fill="#61a5e0" points="2334.99,637.34 2336.74,636.92 2336.93,637.62 2335.38,638.2"/>
<polygon fill="#61a5e0" points="2332.86,640.45 2333.83,640.06 2334.02,640.99 2333.05,640.99"/>
<ellipse fill="#ffdc00" cx="2337.2" cy="638.59" rx="0.78" ry="0.5"/>
<ellipse fill="#ff9200" cx="2337.52" cy="638.66" rx="0.35" ry="0.31"/>
<polygon fill="#12d428" stroke="#46cfa6" stroke-width="0.3" points="2359.84,640.14 2365.08,639.87 2365.08,641.89 2360.03,642.08"/>
<ellipse fill="#078c0c" cx="2362.36" cy="640.99" rx="1.55" ry="0.54"/>
<polygon fill="#61a5e0" points="2364.11,639.95 2365.08,639.91 2365.08,641.89 2364.18,641.93"/>
<polygon fill="#12d428" stroke="#46cfa6" stroke-width="0.36" points="2387.98,646.35 2389.15,645.19 2390.7,644.88 2392.06,646.35 2392.06,647.9 2390.31,648.29 2389.73,649.07 2388.76,648.87 2388.76,647.32"/>
<polygon fill="#46cfa6" points="2387.98,646.27 2389.15,646.16 2392.06,646.55 2392.06,647.32 2388.76,647.13"/>
<ellipse fill="#ffdc00" cx="2390.31" cy="647.52" rx="0.85" ry="0.35"/>
<ellipse fill="#ff9200" cx="2390.12" cy="647.59" rx="0.35" ry="0.19"/>
<polygon fill="#61a5e0" points="2339.84,661.88 2341.79,659.36 2344.5,658.97 2347.22,659.16 2348.19,658 2349.16,658 2349.16,660.71 2349.94,661.49 2349.16,662.27 2348.97,663.82 2347.22,664.01 2346.83,664.98 2345.86,665.95 2345.09,665.76 2344.89,664.98 2341.4,665.18 2340.04,663.43"/>
<polygon fill="#12d428" points="2339.92,661.88 2341.79,659.43 2344.5,659.05 2347.22,659.36 2347.8,661.1 2347.61,663.82 2346.83,664.91 2344.89,664.98 2341.4,665.1 2340.12,663.43"/>
<polygon fill="#078c0c" points="2341.79,661.49 2343.73,659.94 2346.83,660.13 2347.22,662.27 2343.73,663.82 2342.17,663.43"/>
<polygon fill="#ffdc00" points="2344.31,661.1 2347.03,661.1 2347.03,663.82 2343.14,663.82 2343.14,663.24 2344.31,662.46"/>
<polygon fill="#ff9200" points="2345.47,661.68 2347.03,661.68 2347.03,663.82 2344.89,663.82"/>
<polygon fill="#5876c8" points="2348,659.16 2349.16,658.77 2349.24,660.91 2348.39,661.1"/>
<polygon fill="#61a5e0" points="2350.91,661.3 2352.66,660.91 2354.01,662.27 2354.01,665.37 2355.18,666.54 2354.01,667.12 2353.82,668.09 2352.27,668.09 2350.91,666.73 2351.1,663.82"/>
<ellipse fill="#12d428" cx="2352.85" cy="662.85" rx="0.93" ry="1.24"/>
<ellipse fill="#12d428" cx="2352.85" cy="666.73" rx="1.01" ry="1.16"/>
<ellipse fill="#46cfa6" cx="2351.88" cy="661.49" rx="0.85" ry="0.54"/>
<ellipse fill="#8c9a00" cx="2353.51" cy="664.4" rx="0.31" ry="0.54"/>
<polygon fill="#61a5e0" points="2377.89,667.12 2380.99,666.93 2381.77,665.95 2385.65,665.95 2386.43,664.79 2387.2,665.57 2386.04,666.54 2386.04,668.09 2385.07,668.28 2385.07,671.97 2382.16,672.17 2381.38,673.14 2380.22,672.75 2377.89,671.58"/>
<polygon fill="#12d428" points="2378.66,668.48 2380.99,667.51 2384.88,667.12 2384.88,671.39 2382.55,671.2 2380.99,670.42 2379.05,670.81"/>
<ellipse fill="#078c0c" cx="2382.35" cy="669.25" rx="1.4" ry="0.7" transform="rotate(-10 2382.35 669.25)"/>
<polygon fill="#5876c8" points="2386.04,664.98 2387.13,665.37 2386.23,666.54"/>
<polygon fill="#61a5e0" points="2320.05,676.5 2321.79,675.33 2322.18,673.2 2321.02,672.62 2321.79,671.26 2320.82,670.09 2322.18,667.96 2325.09,667.96 2325.29,666.99 2327.81,666.99 2330.53,670.09 2332.08,671.06 2335.19,672.03 2336.35,671.06 2337.13,671.65 2336.93,673.39 2338.29,673.98 2339.07,676.3 2338.87,678.05 2337.32,678.25 2337.13,679.8 2335.77,680.19 2335.96,681.74 2334.41,682.9 2333.25,684.46 2332.08,685.62 2329.75,685.82 2327.81,685.62 2326.65,686.79 2326.06,688.73 2325.09,688.92 2324.9,686.4 2325.48,684.84 2324.32,683.68 2322.96,682.52 2323.15,680.19 2323.35,678.25 2321.99,677.86"/>
<polygon fill="#5876c8" points="2325.48,667.18 2327.81,667.1 2330.53,670.17 2332.08,671.26 2335.19,672.23 2336.74,673.59 2338.29,674.17 2338.87,676.69 2336.74,675.53 2333.63,673.59 2330.53,671.65 2327.81,669.32"/>
<polygon fill="#46cfa6" points="2321.02,670.09 2322.38,668.35 2325.09,668.35 2326.65,670.09 2322.76,671.65"/>
<polygon fill="#12d428" points="2322.18,671.65 2323.35,669.9 2326.26,669.9 2328.98,670.87 2331.3,672.81 2332.08,675.33 2335.19,675.53 2337.13,676.3 2336.74,678.25 2335.19,680.96 2333.63,683.29 2331.69,685.23 2328.2,685.43 2326.65,686.4 2325.87,688.53 2325.09,688.53 2325.29,685.23 2323.35,682.52 2323.35,678.63 2326.26,677.08 2326.65,675.53 2322.76,674.75"/>
<polygon fill="#46cfa6" points="2330.53,672.42 2332.08,672.81 2333.25,675.14 2332.08,675.53"/>
<polygon fill="#078c0c" points="2323.46,678.63 2326.65,677.08 2331.3,676.5 2335.19,677.08 2335.96,678.63 2334.6,682.13 2331.69,684.46 2328.2,684.92 2325.17,683.29 2323.46,681.74"/>
<ellipse fill="#12d428" cx="2333.63" cy="677.66" rx="1.55" ry="0.62" transform="rotate(10 2333.63 677.66)"/>
<ellipse fill="#12d428" cx="2324.7" cy="678.25" rx="1.16" ry="0.47" transform="rotate(-20 2324.7 678.25)"/>
<polyline fill="none" stroke="#ffdc00" stroke-width="1.4" stroke-linecap="round" stroke-linejoin="round" points="2324.51,680.77 2327.81,679.72 2331.3,679.22 2332.78,680.96"/>
<ellipse fill="#078c0c" cx="2324.7" cy="671.65" rx="1.16" ry="0.85"/>
<ellipse fill="#078c0c" cx="2328.59" cy="673.2" rx="1.16" ry="0.85" transform="rotate(30 2328.59 673.2)"/>
<ellipse fill="#078c0c" cx="2327.81" cy="676.3" rx="1.55" ry="0.7"/>
<ellipse fill="#8c9a00" cx="2326.65" cy="681.74" rx="1.4" ry="0.62" transform="rotate(-25 2326.65 681.74)"/>
<ellipse fill="#078c0c" cx="2326.26" cy="672.81" rx="1.55" ry="1.16"/>
<ellipse fill="#12d428" cx="2326.26" cy="672.81" rx="0.97" ry="0.7"/>
<polygon fill="#12d428" stroke="#46cfa6" stroke-width="0.36" points="2333.05,686.4 2334.02,685.23 2336.74,684.84 2338.1,686.79 2337.9,688.92 2336.74,690.09 2333.25,689.89"/>
<ellipse fill="#078c0c" cx="2335.19" cy="687.17" rx="1.16" ry="0.97"/>
<ellipse fill="#ffdc00" cx="2336.55" cy="687.56" rx="0.58" ry="0.47"/>
<ellipse fill="#ffdc00" cx="2334.41" cy="688.42" rx="0.47" ry="0.39"/>
<polygon fill="#5876c8" points="2333.05,685.23 2334.02,685.16 2334.02,686.01 2333.17,686.32"/>
<polygon fill="#12d428" stroke="#46cfa6" stroke-width="0.36" points="2384.1,679.41 2385.26,678.05 2386.82,678.25 2387.59,676.89 2388.76,677.66 2389.92,677.08 2391.09,678.25 2391.28,676.11 2392.83,675.92 2394.19,677.08 2395.05,678.25 2395.05,684.84 2392.64,685.23 2391.09,684.07 2389.92,684.84 2389.73,686.01 2387.98,685.82 2387.98,687.95 2386.82,689.11 2384.1,688.92 2383.71,687.76 2381.96,687.56 2382.16,686.01 2384.49,686.4 2386.82,686.01 2387.2,684.84 2386.04,684.46 2386.04,682.9 2384.88,681.74 2385.07,680.19"/>
<polygon fill="#61a5e0" points="2381.96,686.09 2384.49,686.48 2386.82,686.09 2386.82,687.17 2383.71,687.64 2382.08,687.48"/>
<polygon fill="#61a5e0" points="2391.28,676.11 2392.83,675.92 2393.03,676.69 2391.48,677.08"/>
<polygon fill="#61a5e0" points="2384.1,679.41 2385.07,679.02 2385.07,680.19 2384.29,680.19"/>
<polygon fill="#8c9a00" points="2386.23,679.22 2388.76,679.41 2388.76,680.96 2386.82,681.16"/>
<polygon fill="#ffdc00" points="2387.98,681.16 2390.89,680.96 2390.89,682.9 2390.12,684.07 2388.18,683.87"/>
<ellipse fill="#ff9200" cx="2389.15" cy="682.71" rx="0.54" ry="0.85"/>
<ellipse fill="#ff9200" cx="2392.83" cy="677.55" rx="1.01" ry="0.54"/>
<ellipse fill="#8c9a00" cx="2394.19" cy="679.02" rx="0.85" ry="0.54"/>
<ellipse fill="#ffdc00" cx="2392.45" cy="683.49" rx="0.47" ry="0.39"/>
<polygon fill="#12d428" stroke="#46cfa6" stroke-width="0.3" points="2286.87,693.3 2289.01,692.91 2289.2,696.99 2288.23,697.18 2286.87,695.43"/>
<polygon fill="#61a5e0" points="2287.07,695.43 2288.23,695.82 2289.08,696.99 2288.23,697.18"/>
<polygon fill="#12d428" stroke="#46cfa6" stroke-width="0.3" points="2285.9,698.15 2286.68,697.96 2288.23,699.7 2289.98,701.06 2290.17,709.41 2289.01,710.19 2288.81,710.96 2287.45,711.16 2285.9,709.8 2284.93,708.63 2285.12,706.3 2285.9,705.14 2284.93,704.56 2285.9,703.2 2287.07,702.42 2287.07,700.48 2285.9,699.7"/>
<polygon fill="#61a5e0" points="2285.9,698.15 2286.68,697.96 2288.04,699.7 2287.26,700.17 2285.98,699.7"/>
<polygon fill="#61a5e0" points="2289.32,701.45 2290.09,701.26 2290.17,705.53 2289.47,705.53"/>
<polygon fill="#078c0c" points="2286.48,703.59 2288.81,703 2289.2,704.75 2286.68,704.95"/>
<polygon fill="#ffdc00" points="2286.09,705.33 2288.62,705.33 2288.42,708.25 2287.84,709.8 2287.07,709.41 2286.29,707.47"/>
<polygon fill="#ffc400" points="2286.75,706.5 2287.76,706.3 2287.76,708.05 2287.14,708.44"/>
<polygon fill="#5876c8" points="2289.2,709.02 2290.09,709.02 2290.09,709.99 2289.2,709.99"/>
<polygon fill="#12d428" stroke="#46cfa6" stroke-width="0.3" points="2276.97,705.14 2277.75,704.75 2280.08,707.08 2280.27,708.63 2281.24,709.41 2280.66,711.16 2279.88,711.74 2279.88,713.1 2278.14,713.1 2277.94,711.74 2276.78,710.57"/>
<polygon fill="#61a5e0" points="2276.97,705.14 2277.75,704.75 2279.88,707 2278.52,707.47 2277.17,706.3"/>
<polygon fill="#61a5e0" points="2278.14,712.2 2279.81,712.13 2279.88,713.1 2278.14,713.1"/>
<polygon fill="#12d428" stroke="#46cfa6" stroke-width="0.3" points="2247.86,712.32 2248.63,711.74 2250.19,713.68 2251.16,714.26 2251.35,716.01 2252.13,716.4 2252.13,720.67 2250.96,722.22 2252.13,723 2251.93,724.16 2250.96,723.97 2249.41,724.16 2249.02,725.71 2248.05,726.1 2247.66,727.07 2246.89,726.88 2245.92,725.71 2246.3,724.16 2244.95,723.77 2245.92,722.61 2244.75,721.44 2246.3,720.28 2247.08,719.11 2246.89,715.62 2248.05,714.46"/>
<polygon fill="#61a5e0" points="2247.86,712.32 2248.63,711.74 2250.11,713.6 2249.02,714.07 2248.05,713.68"/>
<polygon fill="#61a5e0" points="2246.89,715.23 2247.86,715.16 2247.86,716.79 2246.96,716.79"/>
<polygon fill="#61a5e0" points="2251.16,716.4 2252.13,716.48 2252.13,718.73 2251.27,718.73"/>
<polygon fill="#46cfa6" points="2249.02,722.61 2250.96,721.64 2251.16,722.61 2249.41,724.08"/>
<polygon fill="#078c0c" points="2246.69,721.25 2248.44,720.67 2248.83,723 2247.08,723.77"/>
<ellipse fill="#8c9a00" cx="2249.22" cy="719.11" rx="0.85" ry="0.85"/>
<ellipse fill="#ffdc00" cx="2249.41" cy="719.43" rx="0.39" ry="0.39"/>
<polygon fill="#61a5e0" points="2250.96,723 2252.13,723 2252.05,724.16 2251.04,724.08"/>
<polygon fill="#61a5e0" points="2246.89,726.3 2247.93,726.3 2247.7,727.15 2246.93,726.96"/>
<polygon fill="#61a5e0" points="2232.96,737.42 2233.93,736.84 2235.09,737.42 2236.84,739.75 2237.03,741.69 2238,742.27 2238,743.05 2237.03,743.05 2236.26,742.08 2235.29,742.08 2235.09,744.02 2233.93,744.02 2233.73,742.08 2232.96,741.89"/>
<polygon fill="#12d428" points="2233.04,738.39 2234.12,738 2234.7,739.75 2235.29,738.98 2236.65,739.95 2236.84,741.69 2235.29,742 2233.73,742 2233.04,741.69"/>
<polygon fill="#46cfa6" points="2234.32,738.2 2235.48,738.39 2236.06,740.53 2234.9,741.3"/>
<polygon fill="#12d428" stroke="#46cfa6" stroke-width="0.3" points="2244.02,737.23 2245.19,736.84 2246.74,738.39 2248.1,739.36 2248.1,743.05 2246.93,743.25 2246.74,744.02 2245.77,743.83 2245.19,742.66 2244.02,741.89"/>
<polygon fill="#61a5e0" points="2244.02,737.34 2244.99,737.23 2244.99,741.69 2244.02,741.81"/>
<polygon fill="#078c0c" points="2245.57,738.59 2247.32,739.56 2247.32,741.3 2245.77,740.53"/>
<polygon fill="#ffdc00" points="2245.19,740.33 2246.35,740.53 2247.52,742.08 2246.74,742.66 2245.38,742.08"/>
<ellipse fill="#ff9200" cx="2246.27" cy="741.5" rx="0.62" ry="0.39" transform="rotate(40 2246.27 741.5)"/>
<polygon fill="#12d428" stroke="#46cfa6" stroke-width="0.3" points="2274.88,737.23 2275.66,736.84 2276.63,738.39 2277.99,739.36 2278.18,741.69 2277.21,742.08 2275.85,741.89 2276.05,740.14 2274.88,738.39"/>
<ellipse fill="#3ce868" cx="2277.02" cy="741.11" rx="0.78" ry="0.7"/>
<polygon fill="#078c0c" points="2278.96,733.35 2279.74,732.96 2281.09,734.32 2280.9,735.87 2280.12,736.06 2279.74,734.32"/>
<polygon fill="#12d428" stroke="#46cfa6" stroke-width="0.3" points="2262.85,745.38 2264.4,743.83 2265.76,745.19 2265.76,745.96 2267.12,746.16 2267.12,747.9 2268.09,748.29 2268.09,749.84 2269.06,750.43 2269.06,752.76 2268.09,752.95 2267.7,751.79 2266.93,751.79 2266.93,752.76 2265.95,752.95 2264.98,751.79 2264.98,750.23 2263.82,749.84 2262.85,748.29"/>
<polygon fill="#61a5e0" points="2262.93,745.38 2264.4,743.91 2265.76,745.26 2265.68,746.16 2263.04,746.27"/>
<polygon fill="#078c0c" points="2265.95,747.52 2267.12,748.1 2268.01,749.84 2268.67,751.79 2266.15,751.4 2265.37,750.23 2265.95,748.68"/>
<polygon fill="#ffdc00" points="2263.04,747.13 2264.98,746.93 2265.76,748.29 2264.79,749.84 2263.82,749.65 2262.97,748.49"/>
<ellipse fill="#ff9200" cx="2264.21" cy="748.29" rx="0.7" ry="0.62"/>
<polygon fill="#61a5e0" points="2265.95,752.17 2266.93,752.17 2266.93,752.83 2266.03,752.95"/>
<polygon fill="#61a5e0" points="2268.01,752.17 2269.06,752.1 2269.06,752.8 2268.09,752.95"/>
<polygon fill="#12d428" stroke="#46cfa6" stroke-width="0.36" points="2300.92,746.65 2301.3,745.09 2302.47,744.12 2304.8,744.01 2305.38,745.09 2306.93,746.26 2307.13,749.75 2305.96,750.14 2305.96,750.92 2304.41,751.11 2303.63,749.75 2302.27,748.78 2302.08,747.03"/>
<polygon fill="#61a5e0" points="2300.92,746.65 2301.3,745.09 2302.47,744.16 2304.72,744.05 2304.99,744.7 2302.86,745.17 2302.08,746.84"/>
<polygon fill="#078c0c" points="2302.66,745.48 2305.19,745.17 2306.74,746.45 2306.82,749.56 2305.19,749.36"/>
<polygon fill="#ffdc00" points="2303.25,746.26 2304.8,746.45 2306.16,747.81 2305.77,748.98 2304.02,748.78 2303.05,748"/>
<polygon fill="#5876c8" points="2304.99,750.33 2305.96,750.22 2305.96,750.92 2305.11,750.99"/>
<polygon fill="#61a5e0" points="2294.9,761.4 2297.03,759.46 2299.75,759.07 2300.53,758.1 2301.11,759.07 2303.63,759.07 2305.57,761.01 2307.9,762.95 2307.9,763.92 2309.84,765.09 2310.04,768.77 2308.29,769.94 2307.32,771.49 2309.07,773.04 2310.62,773.63 2311.2,775.37 2311.01,777.9 2308.68,778.28 2306.93,779.06 2306.74,780.03 2302.08,780.03 2301.3,778.87 2299.36,776.93 2298.39,774.98 2296.65,774.98 2296.84,775.95 2295.68,775.95 2294.7,774.21 2293.15,773.82 2293.15,775.37 2294.12,776.93 2293.93,778.09 2292.57,777.9 2291.6,776.93 2290.05,778.09 2289.46,779.06 2288.11,779.06 2287.52,780.03 2286.75,779.64 2286.55,778.48 2285,778.09 2285,773.82 2286.94,773.04 2288.69,773.04 2290.05,773.82 2290.24,772.27 2291.21,771.49 2289.85,770.52 2291.21,768.97 2292.18,769.16 2293.15,768 2292.96,766.06 2294.9,765.67 2296.06,764.5 2295.87,762.95 2294.9,762.56"/>
<polygon fill="#5876c8" points="2295.48,760.62 2297.03,759.53 2299.75,759.15 2300.53,758.18 2300.92,759.26 2298.2,760.23 2296.26,761.79"/>
<polygon fill="#5876c8" points="2304.41,760.23 2307.9,763.03 2307.9,764.04 2309.84,765.2 2309.84,766.06 2306.74,764.11 2304.8,762.17"/>
<polygon fill="#5876c8" points="2305.96,772.07 2307.32,771.49 2308.29,773.43 2308.49,776.73 2306.74,777.12 2306.16,774.21"/>
<polygon fill="#46cfa6" points="2308.68,773.43 2310.62,773.7 2311.13,775.37 2310.93,777.7 2309.07,777.7"/>
<polygon fill="#12d428" points="2295.48,761.79 2297.42,760.04 2301.3,759.07 2303.63,759.46 2305.19,761.4 2304.8,763.73 2307.9,764.11 2309.65,765.67 2309.07,768.77 2306.74,769.94 2305.19,772.27 2305.96,774.21 2305.19,776.93 2303.63,778.87 2301.69,778.48 2300.53,776.15 2298.2,774.6 2295.87,775.37 2293.93,773.43 2292.76,773.82 2291.21,771.68 2290.43,770.52 2292.18,769.16 2293.35,768 2293.35,766.25 2295.09,765.67 2296.26,764.5"/>
<polygon fill="#12d428" points="2285,773.82 2286.94,773.24 2288.69,773.24 2289.85,774.6 2289.27,776.93 2288.49,778.87 2286.94,779.25 2285,777.9"/>
<polygon fill="#12d428" points="2291.21,774.21 2292.76,773.82 2293.35,775.37 2294.12,776.93 2293.73,777.9 2292.57,777.7 2291.6,776.73"/>
<polygon fill="#46cfa6" points="2290.05,772.27 2291.41,771.68 2292.96,773.82 2291.21,774.21 2290.24,773.82"/>
<polygon fill="#078c0c" points="2304.41,765.67 2306.74,764.89 2308.68,766.06 2308.68,768.39 2305.96,769.55 2304.02,768.39"/>
<polygon fill="#078c0c" points="2296.65,762.95 2298.98,762.17 2300.53,763.73 2300.53,765.67 2297.81,765.67"/>
<polygon fill="#078c0c" points="2301.69,773.43 2304.41,772.66 2305.38,774.6 2304.8,776.93 2303.25,778.09 2301.69,776.93"/>
<polygon fill="#078c0c" points="2294.7,771.49 2298.2,771.1 2297.81,773.43 2295.87,773.82"/>
<polygon fill="#ffdc00" points="2300.14,761.4 2301.69,760.23 2303.05,760.62 2304.02,762.56 2303.83,763.92 2301.69,763.34 2300.33,762.56"/>
<ellipse fill="#ff9200" cx="2302.08" cy="762.1" rx="0.78" ry="0.93" transform="rotate(-20 2302.08 762.1)"/>
<ellipse fill="#e80000" cx="2302.31" cy="762.41" rx="0.47" ry="0.39"/>
<ellipse fill="#8c9a00" cx="2298.59" cy="763.53" rx="1.16" ry="0.62"/>
<polygon fill="#ffdc00" points="2294.9,768 2297.81,766.25 2301.3,766.06 2302.08,767.03 2304.02,767.03 2303.25,768.77 2302.08,769.94 2301.69,771.68 2300.53,771.88 2298.98,770.33 2296.26,769.55"/>
<ellipse fill="#ffc400" cx="2299.17" cy="768.39" rx="1.55" ry="1.24"/>
<ellipse fill="#ffdc00" cx="2294.9" cy="773.82" rx="1.09" ry="0.7" transform="rotate(40 2294.9 773.82)"/>
<ellipse fill="#8c9a00" cx="2296.45" cy="772.46" rx="0.7" ry="0.47"/>
<polygon fill="#ffdc00" points="2285,775.37 2286.94,774.98 2288.11,776.15 2287.33,778.09 2285,777.9"/>
<ellipse fill="#ff9200" cx="2285.58" cy="777.31" rx="0.85" ry="0.39"/>
<polygon fill="#61a5e0" points="2340.9,743.35 2342.45,741.99 2343.23,742.96 2344.98,743.15 2345.17,744.9 2342.45,745.09 2341.87,744.12"/>
<polygon fill="#5876c8" points="2342.84,743.35 2344.78,743.35 2344.78,744.51 2343.04,744.51"/>
<polygon fill="#12d428" stroke="#46cfa6" stroke-width="0.3" points="2349.83,753.25 2350.99,752.86 2351.96,753.25 2351.96,754.8 2353.71,755.19 2355.07,756.16 2355.07,757.9 2352.55,758.21 2351.19,756.74 2349.83,755.77 2350.61,754.8"/>
<polygon fill="#61a5e0" points="2351.07,753.05 2351.96,753.25 2351.96,754.8 2351.19,754.72"/>
<polygon fill="#61a5e0" points="2324.95,724.8 2325.92,723.25 2327.66,722.86 2328.05,724.8 2329.02,725.19 2328.83,726.74 2327.08,726.93 2326.69,728.1 2325.92,727.9 2326.11,726.35 2325.14,725.96"/>
<polygon fill="#5876c8" points="2325.33,724.99 2326.69,725.19 2326.69,727.9 2325.99,727.9 2326.11,726.35"/>
<polygon fill="#61a5e0" points="2330.96,718.2 2337.95,718 2338.14,719.75 2341.06,719.95 2341.06,721.69 2342.22,722.08 2343,723.44 2341.83,725.19 2341.06,725.57 2340.86,730.23 2342.03,731.4 2341.06,731.98 2338.92,731.98 2337.95,732.76 2336.4,733.14 2335.23,734.11 2334.07,732.95 2331.74,731.79 2330.19,732.17 2331.16,731.01 2332.9,730.43 2331.93,729.07 2332.13,726.74 2330.96,726.74"/>
<polygon fill="#5876c8" points="2331.74,718.39 2337.76,718.2 2337.95,719.95 2340.86,720.14 2340.86,721.89 2338.73,721.69 2336.79,720.53 2333.29,720.53 2331.74,721.3"/>
<polygon fill="#5876c8" points="2339.11,725.19 2340.86,725.57 2340.86,729.84 2339.5,728.29"/>
<polygon fill="#5876c8" points="2331.74,731.79 2334.07,731.79 2337.95,731.79 2337.17,732.95 2335.23,734.04 2334.07,732.95"/>
<polygon fill="#12d428" points="2332.13,722.47 2333.29,721.11 2334.84,722.08 2337.17,722.27 2338.34,723.63 2338.73,725.19 2337.95,726.74 2338.53,728.68 2340.67,729.84 2340.67,731.01 2338.92,731.79 2337.56,731.01 2336.79,729.84 2334.84,730.23 2332.9,729.84 2332.13,728.29 2331.93,725.19"/>
<polygon fill="#078c0c" points="2332.9,724.02 2334.84,722.66 2337.17,723.44 2337.56,725.96 2336.4,727.52 2334.84,726.74 2333.29,725.96"/>
<ellipse fill="#078c0c" cx="2334.84" cy="728.68" rx="1.55" ry="1.01"/>
<ellipse fill="#ffdc00" cx="2333.49" cy="723.32" rx="0.58" ry="0.5"/>
<ellipse fill="#ffdc00" cx="2334.46" cy="728.41" rx="0.47" ry="0.43"/>
<ellipse fill="#12d428" cx="2338.92" cy="730.04" rx="1.24" ry="1.09"/>
<polygon fill="#61a5e0" points="2326.89,736.44 2328.05,734.5 2328.25,733.14 2330.57,732.17 2331.74,731.79 2334.07,732.95 2334.84,734.5 2334.07,736.06 2335.04,737.22 2334.07,738.39 2333.29,738.97 2331.74,739.16 2331.16,740.91 2330.19,741.1 2329.6,739.94 2328.25,739.55 2327.08,738.39"/>
<polygon fill="#12d428" points="2327.27,736.44 2328.63,734.11 2330.96,732.56 2333.29,732.95 2334.26,734.7 2333.68,736.06 2334.46,737.22 2333.29,738.77 2331.74,739.08 2331.16,740.71 2330.19,741.02 2329.6,739.86 2328.25,739.47 2327.27,738.19"/>
<polygon fill="#5876c8" points="2328.05,734.5 2328.25,733.14 2330.57,732.17 2331.16,732.64 2328.83,733.92"/>
<polygon fill="#078c0c" points="2329.41,733.92 2331.74,732.76 2333.49,733.73 2333.29,738 2331.74,738.39 2331.74,735.67"/>
<polygon fill="#ffdc00" points="2330.19,734.5 2332.32,734.11 2332.13,735.67 2331.16,737.22 2330.77,739.16 2329.8,739.94 2328.63,738.77 2329.22,736.44"/>
<ellipse fill="#ff9200" cx="2329.6" cy="738.58" rx="0.7" ry="1.01" transform="rotate(20 2329.6 738.58)"/>
<polygon fill="#46cfa6" points="2333.29,737.22 2334.84,737.03 2334.07,738.31 2333.29,738.58"/>
<polygon fill="#61a5e0" points="2358.91,740.33 2360.47,739.16 2362.41,738 2363.18,739.16 2365.9,739.16 2366.09,741.88 2364.74,742.27 2365.12,743.82 2363.77,744.98 2361.05,745.18 2359.88,743.82 2360.47,742.27 2359.69,741.49"/>
<polygon fill="#12d428" points="2358.99,740.33 2360.47,739.36 2362.41,738.19 2363.11,739.36 2363.57,741.49 2361.24,741.88 2359.88,741.49"/>
<ellipse fill="#12d428" cx="2364.35" cy="740.52" rx="0.85" ry="0.78"/>
<ellipse fill="#46cfa6" cx="2364.35" cy="740.52" rx="0.39" ry="0.39"/>
<ellipse fill="#078c0c" cx="2362.48" cy="743.51" rx="1.55" ry="0.54"/>
<ellipse fill="#ff9200" cx="2362.1" cy="744.6" rx="1.01" ry="0.39"/>
<polyline fill="none" stroke="#12d428" stroke-width="0.31" stroke-linecap="round" stroke-linejoin="round" points="2361.24,744.01 2362.48,744.29 2363.88,744.01"/>
<polygon fill="#12d428" stroke="#46cfa6" stroke-width="0.3" points="2365.9,738.77 2367.07,737.22 2368.62,736.83 2369.98,738 2370.17,740.91 2369.01,741.1 2368.81,739.55 2367.84,740.13 2366.48,739.74"/>
<polygon fill="#61a5e0" points="2369.01,738.77 2370.17,738.77 2370.17,741.02 2369.08,741.1"/>
<ellipse fill="#078c0c" cx="2367.84" cy="738" rx="0.85" ry="0.54"/>
<ellipse fill="#ffdc00" cx="2367.45" cy="739.39" rx="0.58" ry="0.47"/>
<polygon fill="#12d428" stroke="#46cfa6" stroke-width="0.3" points="2376.77,727.13 2378.91,726.93 2379.1,728.1 2376.96,728.21"/>
<polygon fill="#12d428" stroke="#46cfa6" stroke-width="0.36" points="2385.03,715.29 2386.2,713.15 2387.75,711.99 2388.52,711.02 2389.5,711.99 2390.85,712.18 2391.05,714.32 2392.02,715.48 2392.02,716.26 2394.74,716.06 2395.12,717.42 2397.45,717.03 2399.01,718.2 2399.2,719.75 2397.45,720.14 2395.9,718.98 2394.74,718.39 2392.02,718.2 2391.24,718.98 2390.08,718.98 2389.88,719.95 2388.33,720.06 2387.94,718.98 2386.97,718.78 2386.97,718 2388.14,717.23 2388.14,716.06 2386.58,715.68"/>
<polygon fill="#61a5e0" points="2385.23,715.17 2386.2,713.23 2387.67,712.18 2388.91,713.35 2388.14,714.7 2386.58,715.68"/>
<polygon fill="#5876c8" points="2385.03,715.17 2386.58,715.02 2386.78,715.79 2385.23,715.87"/>
<polygon fill="#61a5e0" points="2388.14,716.06 2390.08,715.87 2390.08,717.03 2388.33,717.11"/>
<polygon fill="#61a5e0" points="2390.08,712.57 2390.93,712.38 2391.05,714.32 2390.27,714.51"/>
<polygon fill="#61a5e0" points="2386.97,718 2387.94,718 2387.94,718.98 2386.97,718.9"/>
<ellipse fill="#61a5e0" cx="2391.63" cy="717.62" rx="0.54" ry="0.54"/>
<ellipse fill="#ffdc00" cx="2389.5" cy="718.47" rx="0.58" ry="0.5"/>
<ellipse fill="#ff9200" cx="2394.54" cy="717.5" rx="0.5" ry="0.39"/>
<ellipse fill="#ff9200" cx="2395.59" cy="718.51" rx="0.54" ry="0.43"/>
<ellipse fill="#8c9a00" cx="2390.47" cy="716.45" rx="0.54" ry="0.39"/>
<polygon fill="#5876c8" points="2396.87,716.96 2398.04,717.11 2398.04,717.81 2396.99,717.73"/>
<polygon fill="#12d428" stroke="#46cfa6" stroke-width="0.3" points="2389.88,725.38 2391.24,724.41 2392.02,723.25 2393.77,722.86 2394.15,724.22 2392.99,725.19 2392.8,726.16 2390.27,726.16"/>
<ellipse fill="#078c0c" cx="2392.99" cy="723.94" rx="0.78" ry="0.62"/>
<polygon fill="#61a5e0" points="2389.88,725.38 2390.85,725.19 2390.85,726.16 2390.16,726.16"/>
<polygon fill="#12d428" stroke="#46cfa6" stroke-width="0.24" points="2402.69,737.03 2405.02,736.83 2405.22,738 2402.89,738.19"/>
<polygon fill="#61a5e0" points="2404.25,736.91 2405.14,736.87 2405.22,738 2404.32,738.07"/>
<polygon fill="#8c9a00" points="2311.83,824.31 2313,823.8 2314.16,824.11 2314.36,825.67 2313.39,825.47"/>
<polygon fill="#078c0c" points="2311.83,826.25 2313,825.86 2313.7,826.44 2313,827.14 2311.91,827.03"/>
<polygon fill="#ffdc00" points="2313,827.22 2314.16,825.67 2315.91,824.89 2317.27,826.64 2319.21,828.77 2318.82,829.94 2316.88,829.74 2314.94,828.97 2313.77,828.19"/>
<ellipse fill="#ff9200" cx="2315.64" cy="827.53" rx="0.85" ry="0.7"/>
<polygon fill="#12d428" points="2313.97,831.49 2315.33,829.94 2318.82,829.94 2319.98,829.16 2320.18,830.52 2318.82,831.68 2318.82,832.85 2317.85,834.01 2316.49,834.01 2315.91,833.04 2314.16,832.85"/>
<polygon fill="#078c0c" points="2316.1,830.13 2318.82,830.02 2319.91,829.36 2319.98,830.52 2318.74,831.68 2316.88,831.88"/>
<ellipse fill="#3ce868" cx="2317.34" cy="833.43" rx="0.7" ry="0.54"/>
</g>
</svg>
</body></html>
